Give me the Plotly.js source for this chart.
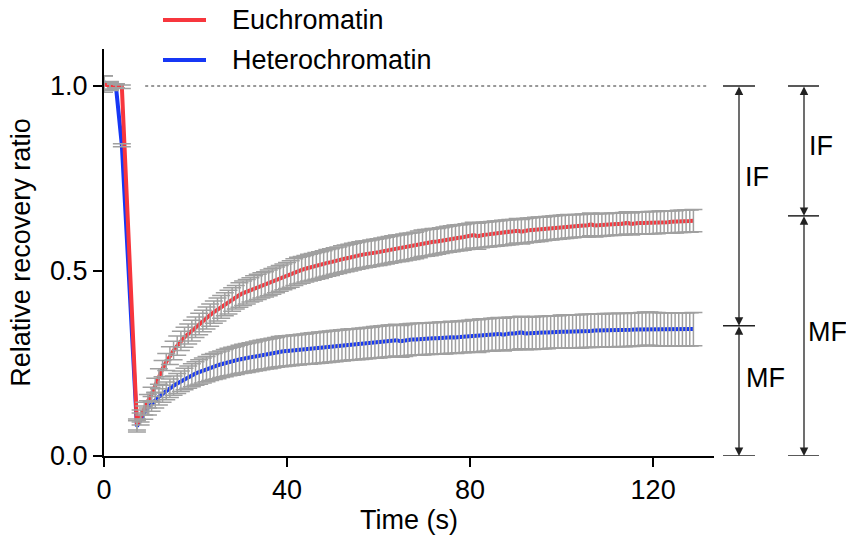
<!DOCTYPE html>
<html>
<head>
<meta charset="utf-8">
<script src="https://cdn.plot.ly/plotly-3.0.1.min.js"></script>
<style>html,body{margin:0;padding:0;background:#fff;}#chart{width:846px;height:542px;}</style>
</head>
<body>
<div id="chart"></div>
<script>
// Time points (s): 4 pre-bleach frames, then post-bleach frames
const time = [0, 1.3, 2.6, 3.9,
  7.2, 8, 8.8, 9.6, 10.4, 11.2, 12, 12.8, 13.6, 14.4,
  15.2, 16, 16.8, 17.6, 18.4, 19.2, 20, 20.8, 21.6, 22.4,
  23.2, 24, 24.8, 25.6, 26.4, 27.2, 28, 28.8, 29.6, 30.4,
  31.2, 32, 32.8, 33.6, 34.4, 35.2, 36, 36.8, 37.6, 38.4,
  39.2, 40, 40.8, 41.6, 42.4, 43.2, 44, 44.8, 45.6, 46.4,
  47.2, 48, 48.8, 49.6, 50.4, 51.2, 52, 52.8, 53.6, 54.4,
  55.2, 56, 56.8, 57.6, 58.4, 59.2, 60, 60.8, 61.6, 62.4,
  63.2, 64, 64.8, 65.6, 66.4, 67.2, 68, 68.8, 69.6, 70.4,
  71.2, 72, 72.8, 73.6, 74.4, 75.2, 76, 76.8, 77.6, 78.4,
  79.2, 80, 80.8, 81.6, 82.4, 83.2, 84, 84.8, 85.6, 86.4,
  87.2, 88, 88.8, 89.6, 90.4, 91.2, 92, 92.8, 93.6, 94.4,
  95.2, 96, 96.8, 97.6, 98.4, 99.2, 100, 100.8, 101.6, 102.4,
  103.2, 104, 104.8, 105.6, 106.4, 107.2, 108, 108.8, 109.6, 110.4,
  111.2, 112, 112.8, 113.6, 114.4, 115.2, 116, 116.8, 117.6, 118.4,
  119.2, 120, 120.8, 121.6, 122.4, 123.2, 124, 124.8, 125.6, 126.4,
  127.2, 128, 128.8];

const euchromatin = [1.005, 1.0, 1.0, 0.998,
  0.085, 0.108, 0.128, 0.148, 0.167, 0.190, 0.215, 0.236, 0.254, 0.271,
  0.285, 0.298, 0.311, 0.321, 0.330, 0.339, 0.348, 0.357, 0.365, 0.373,
  0.381, 0.389, 0.396, 0.403, 0.410, 0.416, 0.423, 0.429, 0.435, 0.440,
  0.444, 0.449, 0.453, 0.457, 0.461, 0.464, 0.468, 0.472, 0.476, 0.480,
  0.484, 0.488, 0.492, 0.497, 0.501, 0.503, 0.506, 0.509, 0.511, 0.514,
  0.516, 0.519, 0.522, 0.524, 0.527, 0.529, 0.532, 0.534, 0.536, 0.539,
  0.541, 0.543, 0.545, 0.546, 0.548, 0.550, 0.551, 0.553, 0.555, 0.557,
  0.559, 0.561, 0.562, 0.564, 0.566, 0.567, 0.569, 0.572, 0.575, 0.576,
  0.577, 0.579, 0.580, 0.582, 0.584, 0.586, 0.587, 0.589, 0.590, 0.591,
  0.593, 0.594, 0.597, 0.594, 0.597, 0.598, 0.599, 0.600, 0.601, 0.602,
  0.603, 0.604, 0.605, 0.606, 0.609, 0.606, 0.609, 0.610, 0.611, 0.612,
  0.613, 0.614, 0.615, 0.616, 0.617, 0.618, 0.619, 0.620, 0.621, 0.621,
  0.622, 0.622, 0.623, 0.623, 0.626, 0.623, 0.624, 0.625, 0.625, 0.626,
  0.626, 0.627, 0.627, 0.628, 0.630, 0.627, 0.629, 0.630, 0.630, 0.630,
  0.631, 0.631, 0.631, 0.632, 0.632, 0.632, 0.633, 0.633, 0.634, 0.634,
  0.635, 0.635, 0.636];

const euchromatinErr = [0.022, 0.010, 0.006, 0.005,
  0.015, 0.016, 0.017, 0.018, 0.019, 0.020, 0.021, 0.022, 0.023, 0.024,
  0.025, 0.026, 0.026, 0.027, 0.027, 0.028, 0.028, 0.029, 0.029, 0.030,
  0.030, 0.030, 0.031, 0.031, 0.031, 0.032, 0.032, 0.032, 0.033, 0.033,
  0.033, 0.033, 0.034, 0.034, 0.034, 0.034, 0.035, 0.035, 0.035, 0.035,
  0.035, 0.035, 0.036, 0.036, 0.036, 0.036, 0.036, 0.036, 0.036, 0.036,
  0.036, 0.036, 0.036, 0.036, 0.036, 0.036, 0.036, 0.036, 0.036, 0.036,
  0.036, 0.036, 0.036, 0.036, 0.036, 0.036, 0.036, 0.036, 0.036, 0.036,
  0.036, 0.036, 0.036, 0.036, 0.036, 0.036, 0.036, 0.036, 0.036, 0.036,
  0.036, 0.036, 0.035, 0.035, 0.035, 0.035, 0.035, 0.035, 0.035, 0.035,
  0.035, 0.035, 0.035, 0.035, 0.034, 0.034, 0.034, 0.034, 0.034, 0.034,
  0.034, 0.034, 0.034, 0.033, 0.033, 0.033, 0.033, 0.033, 0.033, 0.033,
  0.033, 0.032, 0.032, 0.032, 0.032, 0.032, 0.032, 0.032, 0.032, 0.031,
  0.031, 0.031, 0.031, 0.031, 0.031, 0.031, 0.031, 0.031, 0.030, 0.030,
  0.030, 0.030, 0.030, 0.030, 0.030, 0.030, 0.030, 0.030, 0.030, 0.030,
  0.030, 0.030, 0.030, 0.030, 0.030, 0.030, 0.030, 0.030, 0.030, 0.030,
  0.030, 0.030, 0.030];

const heterochromatin = [1.010, 1.0, 1.0, 0.840,
  0.080, 0.100, 0.117, 0.130, 0.141, 0.151, 0.160, 0.168, 0.176, 0.183,
  0.190, 0.196, 0.202, 0.208, 0.213, 0.218, 0.223, 0.227, 0.231, 0.235,
  0.239, 0.242, 0.245, 0.248, 0.251, 0.254, 0.256, 0.258, 0.261, 0.263,
  0.265, 0.267, 0.269, 0.271, 0.273, 0.275, 0.276, 0.278, 0.280, 0.282,
  0.283, 0.284, 0.285, 0.286, 0.287, 0.288, 0.289, 0.290, 0.291, 0.292,
  0.293, 0.294, 0.295, 0.296, 0.297, 0.298, 0.299, 0.300, 0.301, 0.302,
  0.302, 0.303, 0.304, 0.305, 0.306, 0.307, 0.308, 0.309, 0.310, 0.311,
  0.312, 0.313, 0.310, 0.312, 0.314, 0.315, 0.315, 0.316, 0.316, 0.317,
  0.317, 0.318, 0.318, 0.319, 0.319, 0.320, 0.321, 0.320, 0.322, 0.322,
  0.323, 0.324, 0.325, 0.324, 0.326, 0.327, 0.327, 0.328, 0.329, 0.330,
  0.328, 0.330, 0.331, 0.331, 0.332, 0.334, 0.331, 0.332, 0.332, 0.333,
  0.333, 0.334, 0.334, 0.335, 0.335, 0.335, 0.336, 0.336, 0.336, 0.337,
  0.337, 0.337, 0.338, 0.338, 0.338, 0.339, 0.339, 0.339, 0.340, 0.340,
  0.340, 0.340, 0.341, 0.340, 0.341, 0.341, 0.342, 0.342, 0.343, 0.344,
  0.344, 0.343, 0.343, 0.342, 0.342, 0.342, 0.342, 0.342, 0.342, 0.342,
  0.342, 0.342, 0.343];

const heterochromatinErr = [0.018, 0.012, 0.005, 0.004,
  0.015, 0.016, 0.018, 0.019, 0.020, 0.021, 0.022, 0.023, 0.024, 0.025,
  0.026, 0.027, 0.028, 0.029, 0.030, 0.031, 0.032, 0.033, 0.034, 0.034,
  0.035, 0.035, 0.036, 0.036, 0.037, 0.037, 0.038, 0.038, 0.038, 0.039,
  0.039, 0.039, 0.039, 0.040, 0.040, 0.040, 0.040, 0.040, 0.040, 0.041,
  0.041, 0.041, 0.041, 0.041, 0.041, 0.041, 0.041, 0.042, 0.042, 0.042,
  0.042, 0.042, 0.042, 0.042, 0.042, 0.042, 0.042, 0.042, 0.042, 0.042,
  0.042, 0.042, 0.042, 0.042, 0.042, 0.043, 0.043, 0.043, 0.043, 0.043,
  0.043, 0.043, 0.043, 0.043, 0.043, 0.043, 0.043, 0.043, 0.043, 0.043,
  0.043, 0.043, 0.043, 0.043, 0.043, 0.043, 0.043, 0.043, 0.043, 0.043,
  0.043, 0.043, 0.044, 0.044, 0.044, 0.044, 0.044, 0.044, 0.044, 0.044,
  0.044, 0.044, 0.044, 0.044, 0.044, 0.044, 0.044, 0.044, 0.044, 0.044,
  0.044, 0.044, 0.044, 0.044, 0.044, 0.044, 0.045, 0.045, 0.045, 0.045,
  0.045, 0.045, 0.045, 0.045, 0.045, 0.045, 0.045, 0.045, 0.045, 0.045,
  0.045, 0.045, 0.045, 0.045, 0.045, 0.045, 0.045, 0.045, 0.045, 0.045,
  0.045, 0.045, 0.045, 0.045, 0.045, 0.045, 0.045, 0.045, 0.045, 0.045,
  0.045, 0.045, 0.045];

const seriesNames = ['Euchromatin', 'Heterochromatin'];
const seriesColors = ['#f7363d', '#1637f5'];

// Immobile / mobile fraction boundaries
const euPlateau = 0.352;
const hetPlateau = 0.649;

const FONT = 'Liberation Sans, Arial, Helvetica, sans-serif';
const FS = 27;
const GRAY = '#a0a0a0';

const traces = [
  {x: time, y: heterochromatin, mode: 'lines', name: seriesNames[1],
   line: {color: seriesColors[1], width: 4}, showlegend: false, hoverinfo: 'skip'},
  {x: time, y: euchromatin, mode: 'lines', name: seriesNames[0],
   line: {color: seriesColors[0], width: 4}, showlegend: false, hoverinfo: 'skip'},
  {x: time, y: heterochromatin, mode: 'markers', marker: {size: 1, color: 'rgba(0,0,0,0)'},
   error_y: {type: 'data', array: heterochromatinErr, visible: true, color: GRAY, thickness: 1.5, width: 9},
   showlegend: false, hoverinfo: 'skip'},
  {x: time, y: euchromatin, mode: 'markers', marker: {size: 1, color: 'rgba(0,0,0,0)'},
   error_y: {type: 'data', array: euchromatinErr, visible: true, color: GRAY, thickness: 1.5, width: 9},
   showlegend: false, hoverinfo: 'skip'}
];

// pixel helpers for paper coordinates (plot area 104..714 x, 49..456 y)
const L = 104, R = 714, T = 49, B = 456;
const px = p => (p - L) / (R - L);
const py = p => (B - p) / (B - T);

const shapes = [
  // dotted reference line at 1.0
  {type: 'line', xref: 'x', yref: 'y', x0: 9, x1: 131.8, y0: 1, y1: 1,
   line: {color: '#333', width: 1, dash: 'dot'}},
  // legend samples
  {type: 'line', xref: 'paper', yref: 'paper', x0: px(163), x1: px(206), y0: py(20), y1: py(20),
   line: {color: seriesColors[0], width: 4}},
  {type: 'line', xref: 'paper', yref: 'paper', x0: px(163), x1: px(206), y0: py(60), y1: py(60),
   line: {color: seriesColors[1], width: 4}}
];
// caps of the fraction brackets
[[723, 755, [0, euPlateau, 1]], [788, 819, [0, hetPlateau, 1]]].forEach(([a, b, ys]) => {
  ys.forEach(yv => shapes.push({type: 'line', xref: 'paper', yref: 'y', x0: px(a), x1: px(b), y0: yv, y1: yv,
    line: {color: '#222', width: 1.5}}));
});

const annotations = [
  {xref: 'paper', yref: 'paper', x: px(230), y: py(20), xanchor: 'left', yanchor: 'middle',
   text: seriesNames[0], showarrow: false, font: {family: FONT, size: FS, color: '#000'}},
  {xref: 'paper', yref: 'paper', x: px(230), y: py(60), xanchor: 'left', yanchor: 'middle',
   text: seriesNames[1], showarrow: false, font: {family: FONT, size: FS, color: '#000'}},
  {xref: 'paper', yref: 'y', x: px(743), y: 0.754, xanchor: 'left', yanchor: 'middle', text: 'IF',
   showarrow: false, font: {family: FONT, size: FS, color: '#000'}},
  {xref: 'paper', yref: 'y', x: px(744), y: 0.211, xanchor: 'left', yanchor: 'middle', text: 'MF',
   showarrow: false, font: {family: FONT, size: FS, color: '#000'}},
  {xref: 'paper', yref: 'y', x: px(807), y: 0.838, xanchor: 'left', yanchor: 'middle', text: 'IF',
   showarrow: false, font: {family: FONT, size: FS, color: '#000'}},
  {xref: 'paper', yref: 'y', x: px(806), y: 0.335, xanchor: 'left', yanchor: 'middle', text: 'MF',
   showarrow: false, font: {family: FONT, size: FS, color: '#000'}}
];
// double-headed arrows
[[739, 0, euPlateau], [739, euPlateau, 1], [804, 0, hetPlateau], [804, hetPlateau, 1]].forEach(([xp, y0, y1]) => {
  annotations.push({xref: 'paper', yref: 'y', x: px(xp), y: y0, axref: 'pixel', ax: 0, ayref: 'y', ay: y1,
    text: '', showarrow: true, arrowside: 'end+start', arrowhead: 2, startarrowhead: 2,
    arrowsize: 1.3, startarrowsize: 1.3, arrowwidth: 1.3, arrowcolor: '#222', standoff: 0, startstandoff: 0,
    font: {size: 1}, borderpad: 0});
});

const layout = {
  width: 846, height: 542,
  margin: {l: L, r: 846 - R, t: T, b: 542 - B, pad: 0},
  paper_bgcolor: '#fff', plot_bgcolor: '#fff',
  showlegend: false,
  font: {family: FONT, size: FS, color: '#000'},
  xaxis: {
    range: [0, 133.3], tickvals: [0, 40, 80, 120], ticks: 'outside', ticklen: 9, tickwidth: 2,
    tickcolor: '#000', showline: true, linecolor: '#000', linewidth: 2, showgrid: false, zeroline: false,
    tickfont: {family: FONT, size: FS, color: '#000'},
    title: {text: 'Time (s)', font: {family: FONT, size: FS, color: '#000'}, standoff: 4}
  },
  yaxis: {
    range: [0, 1.1], tickvals: [0, 0.5, 1.0], tickformat: '.1f', ticks: 'outside', ticklen: 9, tickwidth: 2,
    tickcolor: '#000', showline: true, linecolor: '#000', linewidth: 2, showgrid: false, zeroline: false,
    tickfont: {family: FONT, size: FS, color: '#000'},
    title: {text: 'Relative recovery ratio', font: {family: FONT, size: FS, color: '#000'}, standoff: 12}
  },
  shapes: shapes,
  annotations: annotations
};

Plotly.newPlot('chart', traces, layout, {displayModeBar: false, staticPlot: true});
</script>
</body>
</html>
